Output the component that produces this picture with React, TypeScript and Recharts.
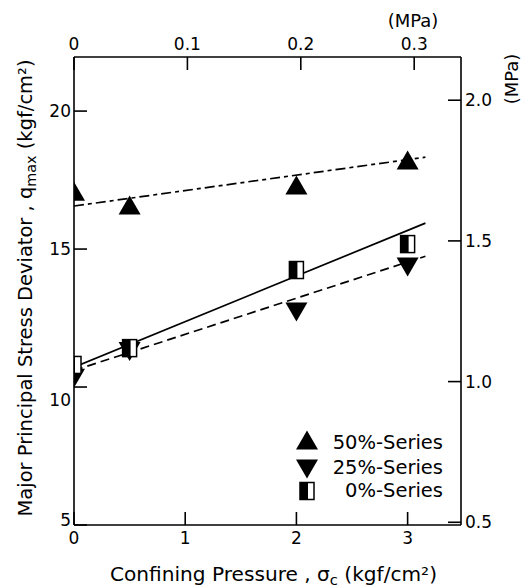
import React from 'react'
import { ComposedChart, Line, Scatter, XAxis, YAxis } from 'recharts'

// confining pressure σc (kgf/cm2) and q_max (kgf/cm2)
const pressure = [0, 0.5, 2, 3]
const series50 = [16.99, 16.49, 17.21, 18.12]
const series25 = [10.43, 11.4, 12.83, 14.46]
const series0 = [10.8, 11.41, 14.24, 15.18]

// end points of the fitted lines
const fitX = [0, 3.16]
const fit50 = [16.56, 18.33]
const fit25 = [10.6, 14.74]
const fit0 = [10.72, 15.94]

const kgfTicks = [0, 1, 2, 3]
const mpaTopTicks = [0, 0.1, 0.2, 0.3]
const qTicks = [5, 10, 15, 20]
const mpaRightTicks = [0.5, 1.0, 1.5, 2.0]

const KGF_PER_MPA = 10.197
const X_MAX = 3.48
const Y_MIN = 5
const Y_MAX = 21.96

const FONT = '"DejaVu Sans", sans-serif'

const toPts = (xs: number[], ys: number[]) => xs.map((x, i) => ({ x, y: ys[i] }))

const UpTri = ({ cx, cy }: any) => (
  <polygon points={`${cx - 11},${cy + 6.5} ${cx + 11},${cy + 6.5} ${cx},${cy - 12.5}`} fill="#000" />
)
const DownTri = ({ cx, cy }: any) => (
  <polygon points={`${cx - 11},${cy - 6.5} ${cx + 11},${cy - 6.5} ${cx},${cy + 12.5}`} fill="#000" />
)
const HalfSquare = ({ cx, cy }: any) => (
  <g>
    <rect x={cx - 7} y={cy - 8.5} width={14} height={17} fill="#fff" stroke="#000" strokeWidth={1.5} />
    <rect x={cx - 7} y={cy - 8.5} width={8} height={17} fill="#000" />
  </g>
)

// the scan puts "10" a little under its tick and "5" just above the corner
const LEFT_DY: Record<number, number> = { 10: 13, 5: -5 }

const LeftTick = ({ x, y, payload }: any) => (
  <text x={x} y={y + (LEFT_DY[payload.value] ?? 0)} textAnchor="end" dominantBaseline="central"
    fontSize={17} fill="#000" fontFamily={FONT}>
    {payload.value}
  </text>
)

const axisProps = {
  stroke: '#000',
  strokeWidth: 1.6,
  tickSize: -13,
  allowDataOverflow: true,
  interval: 0 as const,
  tick: { fill: '#000', fontSize: 17, fontFamily: FONT },
}

export default function App() {
  return (
    <div style={{ position: 'absolute', left: 0, top: 0, width: 524, height: 587, background: '#fff' }}>
      <ComposedChart width={524} height={587} margin={{ top: 17, right: 13, bottom: 22, left: 24 }}>
        <XAxis xAxisId="b" type="number" dataKey="x" orientation="bottom" height={40}
          domain={[0, X_MAX]} ticks={kgfTicks} tickMargin={20} {...axisProps} />
        <XAxis xAxisId="t" type="number" dataKey="x" orientation="top" height={40}
          domain={[0, X_MAX / KGF_PER_MPA]} ticks={mpaTopTicks} tickMargin={20}
          tickFormatter={(v: number) => (v === 0 ? '0' : v.toFixed(1))} {...axisProps} />
        <YAxis yAxisId="l" type="number" dataKey="y" orientation="left" width={50}
          domain={[Y_MIN, Y_MAX]} ticks={qTicks} tickMargin={16} {...axisProps} tick={<LeftTick />} />
        <YAxis yAxisId="r" type="number" dataKey="y" orientation="right" width={50}
          domain={[Y_MIN / KGF_PER_MPA, Y_MAX / KGF_PER_MPA]} ticks={mpaRightTicks} tickMargin={17}
          tickFormatter={(v: number) => v.toFixed(1)} {...axisProps} textAnchor="start" />

        <Line xAxisId="b" yAxisId="l" data={toPts(fitX, fit50)} dataKey="y" stroke="#000" strokeWidth={1.7}
          strokeDasharray="10 4 4 4" dot={false} isAnimationActive={false} />
        <Line xAxisId="b" yAxisId="l" data={toPts(fitX, fit25)} dataKey="y" stroke="#000" strokeWidth={1.7}
          strokeDasharray="9 5" dot={false} isAnimationActive={false} />
        <Line xAxisId="b" yAxisId="l" data={toPts(fitX, fit0)} dataKey="y" stroke="#000" strokeWidth={1.7}
          dot={false} isAnimationActive={false} />

        <Scatter xAxisId="b" yAxisId="l" data={toPts(pressure, series50)} shape={<UpTri />} isAnimationActive={false} />
        <Scatter xAxisId="b" yAxisId="l" data={toPts(pressure, series25)} shape={<DownTri />} isAnimationActive={false} />
        <Scatter xAxisId="b" yAxisId="l" data={toPts(pressure, series0)} shape={<HalfSquare />} isAnimationActive={false} />
      </ComposedChart>

      <svg width={524} height={587} style={{ position: 'absolute', left: 0, top: 0, pointerEvents: 'none' }}
        fontFamily={FONT} fill="#000">
        {/* legend */}
        <UpTri cx={307} cy={443} />
        <DownTri cx={307} cy={466} />
        <HalfSquare cx={307} cy={491} />
        <text x={443} y={449} fontSize={19.5} textAnchor="end">50%-Series</text>
        <text x={443} y={474} fontSize={19.5} textAnchor="end">25%-Series</text>
        <text x={443} y={497} fontSize={19.5} textAnchor="end">0%-Series</text>

        {/* axis titles */}
        <text x={273.5} y={581} fontSize={19} textAnchor="middle" textLength={327} lengthAdjust="spacingAndGlyphs">
          Confining Pressure , σ<tspan fontSize={14} dy={4}>c</tspan><tspan dy={-4}> (kgf/cm²)</tspan>
        </text>
        <text transform="translate(32,288) rotate(-90)" fontSize={19} textAnchor="middle"
          textLength={457} lengthAdjust="spacingAndGlyphs">
          Major Principal Stress Deviator , q<tspan fontSize={14} dy={4}>max</tspan><tspan dy={-4}> (kgf/cm²)</tspan>
        </text>
        <text x={413} y={27} fontSize={18} textAnchor="middle">(MPa)</text>
        <text transform="translate(518,79) rotate(-90)" fontSize={18} textAnchor="middle">(MPa)</text>
      </svg>
    </div>
  )
}
